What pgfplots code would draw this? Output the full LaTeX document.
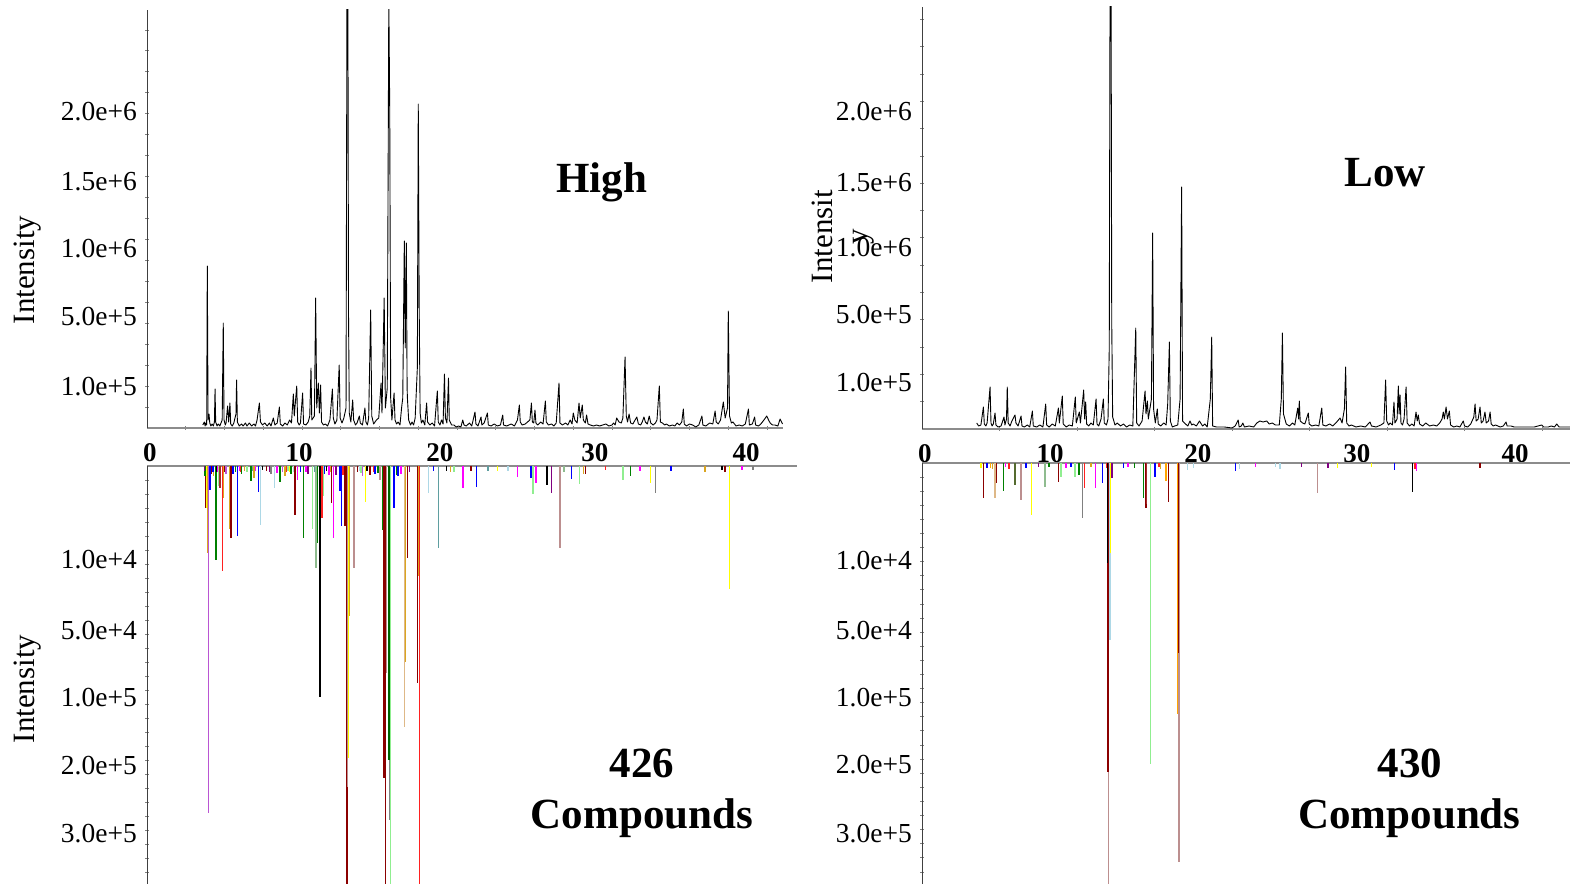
\documentclass[border=0pt]{standalone}
\usepackage{pgfplots}
\pgfplotsset{compat=1.18}
\usepackage{fontspec}
\setmainfont{Liberation Serif}

\definecolor{cdarkred}{HTML}{8B0000}
\definecolor{cred}{HTML}{FF2020}
\definecolor{corchid}{HTML}{BA55D3}
\definecolor{cblue}{HTML}{0000FF}
\definecolor{cgreen}{HTML}{008000}
\definecolor{clightgreen}{HTML}{90EE90}
\definecolor{cgold}{HTML}{DAA520}
\definecolor{cyellow}{HTML}{FFFF00}
\definecolor{clightblue}{HTML}{ADD8E6}
\definecolor{cmagenta}{HTML}{FF00FF}
\definecolor{crosy}{HTML}{BC8F8F}
\definecolor{cburly}{HTML}{DEB887}
\definecolor{cteal}{HTML}{5F9EA0}
\definecolor{cbrown}{HTML}{A52A2A}
\definecolor{colive}{HTML}{556B2F}
\definecolor{cseagreen}{HTML}{8FBC8F}
\definecolor{cpurple}{HTML}{800080}
\definecolor{cdkgreen}{HTML}{006400}
\definecolor{corange}{HTML}{FFA500}

\newcommand{\ticksize}{\fontsize{27.5}{30}\selectfont}
\newcommand{\bigbold}{\fontsize{43}{48}\selectfont\bfseries}

\pgfplotsset{
  panel/.style={
    scale only axis,
    tick align=outside,
    major tick length=0pt,
    minor tick length=4pt,
    every minor tick/.append style={draw=black!50, line width=0.8pt},
    yticklabel style={font=\ticksize, anchor=east, inner sep=0pt, xshift=-10pt},
  },
  plainlines/.style={
    axis line style={-},
    every outer x axis line/.append style={-},
    every outer y axis line/.append style={-},
    x axis line style={-, draw=black!45, line width=1.3pt},
    y axis line style={-, draw=black!75, line width=1pt},
  },
  toppanel/.style={panel, axis x line=bottom, axis y line=left, plainlines, ymin=0,
    xticklabel style={font=\fontsize{27}{28}\selectfont\bfseries, anchor=north, inner sep=0pt, yshift=-15pt},
    xticklabels={0,10,20,30,40},
    yticklabels={1.0e+5,5.0e+5,1.0e+6,1.5e+6,2.0e+6}},
  botpanel/.style={panel, axis x line=top, axis y line=left, plainlines, ymax=0, xmin=0,
    xtick=\empty,
    yticklabels={1.0e+4,5.0e+4,1.0e+5,2.0e+5,3.0e+5}},
  comb/.style={ycomb, line width=1.4pt, draw=#1},
  trace/.style={black, line width=0.9pt, line join=round},
}

\begin{document}
\begin{tikzpicture}[x=1pt,y=1pt]
\useasboundingbox (0,0) rectangle (1570,883);
\clip (0,0) rectangle (1570,883);

% ---------------- High: total ion chromatogram ----------------
\begin{axis}[toppanel, at={(147pt,455pt)}, anchor=south west,
  width=636pt, height=418pt, xmin=0, xmax=41.03, ymax=418,
  xtick={0.19,9.81,18.9,28.9,38.65},
  minor xtick={2.5,5,...,40},
  ytick={41,111,179,246,316},
  minor ytick={20.95,41.9,...,410}]
\addplot[trace] coordinates {
(3.60,3) (3.70,6) (3.75,2) (3.80,5) (3.85,3) (3.89,162) (3.94,8) (4.00,14) (4.05,5) (4.12,2) (4.20,4)
(4.28,2) (4.35,6) (4.39,39) (4.43,6) (4.52,2) (4.60,4) (4.70,2) (4.80,6) (4.85,8) (4.92,105) (4.97,8)
(5.05,3) (5.10,5) (5.20,22) (5.27,6) (5.35,25) (5.40,4) (5.50,2) (5.60,5) (5.74,14) (5.78,48) (5.83,6)
(5.95,2) (6.10,4) (6.20,2) (6.35,5) (6.45,2) (6.60,5) (6.75,2) (6.90,4) (7.00,2) (7.10,8) (7.25,25)
(7.32,6) (7.45,3) (7.60,5) (7.75,2) (7.90,5) (8.00,2) (8.15,10) (8.25,3) (8.40,5) (8.54,21) (8.60,4)
(8.75,2) (8.90,5) (9.05,3) (9.20,8) (9.32,5) (9.44,34) (9.50,12) (9.66,42) (9.72,6) (9.82,3) (9.90,5)
(10.04,35) (10.10,4) (10.25,3) (10.40,6) (10.50,12) (10.58,60) (10.63,8) (10.80,12) (10.88,130) (10.95,20)
(11.05,45) (11.12,15) (11.20,43) (11.26,6) (11.38,3) (11.50,4) (11.65,2) (11.80,8) (11.96,39) (12.02,10)
(12.12,4) (12.25,8) (12.40,63) (12.46,10) (12.58,5) (12.70,10) (12.84,20) (12.90,430) (12.96,430)
(13.00,115) (13.05,15) (13.15,6) (13.27,28) (13.33,8) (13.45,3) (13.55,5) (13.70,12) (13.76,5) (13.90,3)
(14.06,20) (14.12,6) (14.22,3) (14.30,10) (14.43,118) (14.50,12) (14.62,4) (14.80,8) (14.95,10)
(15.10,45) (15.16,15) (15.30,130) (15.38,20) (15.50,40) (15.60,430) (15.66,316) (15.72,30) (15.80,8)
(15.94,35) (16.00,8) (16.10,4) (16.20,6) (16.32,3) (16.43,21) (16.50,30) (16.60,187) (16.66,80) (16.73,185)
(16.78,40) (16.80,30) (16.88,8) (17.00,3) (17.10,6) (17.20,3) (17.30,10) (17.44,60) (17.50,324) (17.56,120)
(17.62,15) (17.70,5) (17.80,8) (17.92,3) (18.04,25) (18.10,6) (18.25,3) (18.40,5) (18.55,2) (18.73,37)
(18.79,6) (18.90,3) (19.00,8) (19.10,4) (19.19,54) (19.25,10) (19.35,5) (19.45,50) (19.50,8) (19.65,3)
(19.80,3) (19.95,1) (20.10,2) (20.25,1) (20.37,8) (20.45,3) (20.60,2) (20.80,5) (20.95,2) (21.16,16)
(21.22,4) (21.35,2) (21.55,11) (21.60,3) (21.75,5) (21.96,15) (22.02,3) (22.20,2) (22.40,4) (22.60,2)
(22.80,3) (22.95,13) (23.00,3) (23.20,2) (23.35,3) (23.50,4) (23.70,2) (23.90,8) (24.02,23) (24.08,6)
(24.20,3) (24.40,4) (24.55,6) (24.70,8) (24.80,25) (24.86,6) (24.95,5) (25.03,18) (25.09,5) (25.20,3)
(25.40,6) (25.55,4) (25.70,27) (25.76,6) (25.90,3) (26.10,4) (26.25,2) (26.40,5) (26.58,45) (26.64,5)
(26.80,3) (27.00,5) (27.15,3) (27.30,8) (27.42,4) (27.50,15) (27.60,8) (27.75,5) (27.87,25) (27.95,10)
(28.08,23) (28.15,8) (28.28,5) (28.36,13) (28.45,4) (28.60,3) (28.80,2) (29.00,3) (29.20,2) (29.40,3)
(29.60,4) (29.80,2) (30.00,3) (30.10,5) (30.20,3) (30.30,10) (30.45,6) (30.60,5) (30.70,10) (30.84,71)
(30.92,12) (31.00,6) (31.10,14) (31.20,5) (31.35,4) (31.45,7) (31.60,11) (31.70,4) (31.85,3) (31.95,6)
(32.06,11) (32.15,6) (32.28,4) (32.40,12) (32.50,5) (32.65,3) (32.80,5) (32.90,8) (33.05,42) (33.12,6)
(33.25,5) (33.40,3) (33.50,4) (33.70,2) (33.90,3) (34.05,2) (34.20,5) (34.35,3) (34.50,6) (34.60,19)
(34.66,4) (34.80,2) (35.00,4) (35.20,3) (35.40,1) (35.60,3) (35.80,12) (35.86,3) (36.05,2) (36.30,5)
(36.50,4) (36.65,17) (36.72,6) (36.85,4) (37.00,8) (37.18,26) (37.30,10) (37.45,20) (37.50,117) (37.58,12)
(37.70,5) (37.80,6) (38.00,2) (38.20,3) (38.40,2) (38.60,4) (38.80,19) (38.86,3) (39.05,4) (39.20,11)
(39.26,3) (39.45,2) (39.60,4) (39.80,8) (39.98,12) (40.10,8) (40.20,5) (40.35,3) (40.50,3) (40.70,2)
(40.84,9) (41.00,4)
};
\end{axis}

% ---------------- High: deconvolved compounds ----------------
\begin{axis}[botpanel, at={(147pt,-3pt)}, anchor=south west,
  width=650pt, height=420pt, xmax=41.94, ymin=-420,
  minor xtick={5,10,...,40},
  ytick={-94,-165,-232,-300,-368},
  minor ytick={-14,-28,...,-420}]
% deep components
\addplot[comb=cdarkred] coordinates {(12.90,-430) (15.40,-430) (15.30,-312) (17.45,-217)};
\addplot[comb=cred] coordinates {(17.58,-430)};
\addplot[comb=clightgreen] coordinates {(15.70,-430)};
\addplot[comb=crosy] coordinates {(12.95,-321) (15.45,-207)};
\addplot[comb=gray] coordinates {(15.66,-354)};
\addplot[comb=corchid] coordinates {(3.95,-347)};
\addplot[comb=black] coordinates {(11.16,-231)};
\addplot[comb=cyellow] coordinates {(13.02,-292)};
\addplot[comb=cburly] coordinates {(16.62,-261)};
\addplot[comb=cdkgreen] coordinates {(15.62,-294)};
\addplot[comb=cgold] coordinates {(16.66,-196) (13.05,-150) (17.52,-110)};
% shallow components
\addplot[comb=cdarkred] coordinates {(3.79,-42) (5.42,-72) (9.55,-49) (11.90,-37) (12.77,-60) (16.80,-92) (28.3,-8) (37.3,-6) (6.5,-6) (20.9,-5) (4.15,-8) (5.0,-6) (7.7,-5) (13.6,-6) (14.4,-9)};
\addplot[comb=cgold] coordinates {(3.89,-87) (5.31,-63) (6.9,-12) (8.9,-10) (13.9,-8) (28.15,-8) (36.0,-6) (4.9,-32) (4.3,-10) (6.3,-5) (11.8,-6) (19.6,-6)};
\addplot[comb=cyellow] coordinates {(3.85,-42) (14.10,-36) (32.50,-17) (37.57,-123) (9.2,-6) (22.6,-5)};
\addplot[comb=cblue] coordinates {(4.06,-24) (5.83,-70) (7.18,-26) (12.45,-25) (12.55,-60) (15.94,-42) (21.27,-21) (24.77,-12) (27.4,-13) (14.7,-8) (33.8,-5) (4.25,-6) (5.55,-8) (9.9,-6) (11.45,-8) (16.2,-10) (18.5,-5)};
\addplot[comb=cgreen] coordinates {(4.45,-94) (6.7,-15) (8.58,-16) (10.10,-72) (10.99,-77) (15.20,-64) (31.2,-10) (6.1,-8) (3.75,-10) (5.7,-6) (9.3,-8) (14.9,-7) (16.1,-9)};
\addplot[comb=cred] coordinates {(4.88,-105) (11.30,-52) (9.0,-6) (29.6,-4) (6.05,-6) (12.65,-9) (14.6,-6)};
\addplot[comb=clightblue] coordinates {(7.34,-59) (8.22,-22) (18.15,-27) (23.3,-5) (9.45,-6) (13.7,-5)};
\addplot[comb=clightgreen] coordinates {(10.66,-63) (24.90,-28) (27.9,-18) (30.7,-14) (4.6,-20) (19.8,-6) (6.45,-6) (9.1,-5) (11.4,-30) (13.8,-7)};
\addplot[comb=cseagreen] coordinates {(10.90,-102) (26.9,-6)};
\addplot[comb=cmagenta] coordinates {(12.05,-72) (7.0,-5) (9.7,-14) (20.4,-22) (25.1,-17) (23.9,-11) (31.8,-5) (38.4,-4) (4.55,-6) (5.95,-5) (8.4,-7) (10.25,-6) (11.75,-9) (16.4,-8)};
\addplot[comb=crosy] coordinates {(13.35,-102) (26.65,-82) (15.03,-14)};
\addplot[comb=cteal] coordinates {(18.80,-82) (22.0,-5) (6.8,-5) (10.8,-6)};
\addplot[comb=black] coordinates {(19.34,-5) (25.8,-19) (11.6,-5) (37.1,-4) (4.5,-6) (7.45,-4) (14.2,-5)};
\addplot[comb=gray] coordinates {(32.8,-27) (39.1,-4) (8.0,-8)};
\addplot[comb=cpurple] coordinates {(26.1,-27) (10.4,-8) (3.7,-5) (7.9,-6) (12.2,-9) (16.95,-6)};
\addplot[comb=corchid] coordinates {(13.9,-10) (5.1,-8) (8.75,-6)};
\addplot[comb=cbrown] coordinates {(4.72,-22)};
\end{axis}

% ---------------- Low: total ion chromatogram ----------------
\begin{axis}[toppanel, at={(922pt,454pt)}, anchor=south west,
  width=660pt, height=422pt, xmin=0, xmax=42.58, ymax=422,
  xtick={0.19,8.26,17.8,28.06,38.26},
  minor xtick={5,10,...,40},
  ytick={46,114,181,246,317},
  minor ytick={27.3,54.6,...,420}]
\addplot[trace] coordinates {
(3.53,6) (3.65,3) (3.80,4) (3.96,22) (4.02,5) (4.12,3) (4.20,6) (4.39,42) (4.45,6) (4.52,3) (4.60,5)
(4.71,16) (4.77,4) (4.90,2) (5.10,3) (5.29,12) (5.35,4) (5.45,10) (5.50,42) (5.56,6) (5.68,3) (5.80,8)
(6.00,14) (6.06,6) (6.20,3) (6.39,13) (6.45,3) (6.60,2) (6.80,4) (6.95,2) (7.12,18) (7.18,3) (7.40,2)
(7.60,4) (7.80,2) (7.98,25) (8.04,4) (8.20,2) (8.40,5) (8.60,3) (8.80,21) (8.86,6) (9.05,33) (9.11,5)
(9.30,2) (9.50,4) (9.70,3) (9.89,32) (9.95,6) (10.15,17) (10.22,6) (10.43,39) (10.49,10) (10.56,27)
(10.62,5) (10.75,3) (10.90,6) (11.05,4) (11.23,30) (11.29,5) (11.40,3) (11.55,10) (11.70,30) (11.76,6)
(11.90,4) (12.00,10) (12.08,80) (12.13,430) (12.20,430) (12.24,106) (12.30,12) (12.45,4) (12.60,6)
(12.80,3) (13.00,5) (13.20,2) (13.40,4) (13.60,3) (13.79,101) (13.85,6) (14.00,3) (14.20,8) (14.39,38)
(14.45,15) (14.54,28) (14.60,10) (14.80,30) (14.88,196) (14.94,20) (15.05,6) (15.18,20) (15.24,5) (15.40,3)
(15.60,6) (15.75,4) (15.85,25) (15.96,87) (16.02,8) (16.15,2) (16.30,3) (16.50,4) (16.65,30) (16.75,242)
(16.81,8) (17.00,5) (17.15,3) (17.29,8) (17.40,4) (17.50,5) (17.70,3) (17.90,8) (18.10,3) (18.25,5)
(18.40,2) (18.60,30) (18.69,92) (18.75,3) (19.00,2) (19.50,2) (20.00,1) (20.20,3) (20.40,9) (20.46,2)
(20.60,3) (20.70,6) (20.80,2) (21.10,3) (21.40,2) (21.60,6) (21.80,8) (22.00,7) (22.24,8) (22.40,5)
(22.60,6) (22.80,4) (23.05,4) (23.18,30) (23.25,96) (23.32,15) (23.50,5) (23.70,3) (23.90,6) (24.05,4)
(24.24,21) (24.30,10) (24.34,28) (24.40,8) (24.55,6) (24.70,5) (24.92,16) (24.98,5) (25.15,3) (25.40,4)
(25.60,3) (25.79,21) (25.86,4) (26.05,3) (26.30,5) (26.50,3) (26.70,6) (26.97,11) (27.10,6) (27.25,20)
(27.33,62) (27.40,6) (27.55,3) (27.70,4) (28.00,2) (28.30,3) (28.60,2) (28.90,7) (29.00,3) (29.30,2)
(29.60,4) (29.80,6) (29.91,49) (29.98,8) (30.10,4) (30.20,6) (30.35,4) (30.45,27) (30.51,6) (30.65,10)
(30.73,43) (30.78,15) (30.84,34) (30.90,6) (31.00,4) (31.10,10) (31.23,42) (31.30,6) (31.45,3) (31.60,5)
(31.75,3) (31.87,17) (31.95,8) (32.02,14) (32.10,5) (32.30,3) (32.50,6) (32.75,3) (33.00,4) (33.20,3)
(33.40,6) (33.55,10) (33.63,17) (33.70,10) (33.81,22) (33.90,10) (34.02,18) (34.10,4) (34.30,2) (34.50,3)
(34.70,2) (34.92,8) (35.00,3) (35.20,2) (35.40,5) (35.60,12) (35.68,25) (35.75,8) (35.88,10) (36.00,22)
(36.08,6) (36.20,8) (36.32,17) (36.40,6) (36.55,8) (36.65,17) (36.72,5) (36.85,3) (37.00,4) (37.30,2)
(37.50,3) (37.68,7) (37.75,3) (38.00,3) (38.20,2) (38.60,2) (39.00,2) (39.50,2) (39.98,4) (40.10,2)
(40.40,2) (40.60,3) (40.80,2) (40.95,5) (41.10,2) (42.50,2)
};
\end{axis}

% ---------------- Low: deconvolved compounds ----------------
\begin{axis}[botpanel, at={(922pt,-3pt)}, anchor=south west,
  width=660pt, height=423pt, xmax=42.58, ymin=-423,
  minor xtick={5,10,...,40},
  ytick={-97.5,-168,-235,-301.5,-371},
  minor ytick={-14.1,-28.2,...,-420}]
% deep components
\addplot[comb=crosy] coordinates {(12.04,-430) (16.58,-399)};
\addplot[comb=cdarkred] coordinates {(12.00,-309) (16.55,-190)};
\addplot[comb=clightgreen] coordinates {(14.75,-301)};
\addplot[comb=corange] coordinates {(16.50,-251)};
\addplot[comb=clightblue] coordinates {(12.12,-177)};
\addplot[comb=black] coordinates {(11.98,-100)};
\addplot[comb=cyellow] coordinates {(12.16,-90)};
% shallow components
\addplot[comb=cdarkred] coordinates {(3.96,-35) (4.82,-20) (8.80,-19) (14.45,-45) (15.89,-39) (36.0,-5)};
\addplot[comb=cburly] coordinates {(4.70,-35)};
\addplot[comb=cgreen] coordinates {(5.25,-28) (10.13,-12) (14.28,-35) (8.2,-4) (13.7,-5)};
\addplot[comb=colive] coordinates {(6.00,-22)};
\addplot[comb=crosy] coordinates {(6.39,-37) (25.53,-30)};
\addplot[comb=cyellow] coordinates {(7.08,-52) (3.8,-5) (26.8,-5) (29.0,-4)};
\addplot[comb=cseagreen] coordinates {(7.94,-24)};
\addplot[comb=clightgreen] coordinates {(8.97,-14) (9.87,-14)};
\addplot[comb=gray] coordinates {(10.37,-55)};
\addplot[comb=cred] coordinates {(10.47,-25) (5.6,-6) (31.8,-6) (11.9,-5) (15.3,-4)};
\addplot[comb=cmagenta] coordinates {(11.20,-25) (31.9,-8) (21.5,-4) (5.4,-4) (9.3,-5) (13.3,-4)};
\addplot[comb=cblue] coordinates {(11.66,-20) (15.03,-14) (20.24,-8) (30.47,-7) (4.2,-5) (6.7,-5) (9.6,-4) (13.0,-5)};
\addplot[comb=corange] coordinates {(15.74,-18) (4.4,-5)};
\addplot[comb=cgold] coordinates {(4.55,-6) (10.9,-4) (15.4,-6)};
\addplot[comb=clightblue] coordinates {(17.12,-7) (23.1,-6) (20.5,-6) (17.5,-5) (22.8,-4)};
\addplot[comb=black] coordinates {(31.63,-29)};
\addplot[comb=cbrown] coordinates {(14.50,-41)};
\addplot[comb=cpurple] coordinates {(12.25,-15) (7.5,-4) (24.5,-4) (26.2,-5)};
\end{axis}

% panel texts
\node[anchor=base, font=\bigbold] at (601.7,690) {High};
\node[anchor=base, font=\bigbold] at (1385,696) {Low};
\node[anchor=base, font=\bigbold] at (642,106) {426};
\node[anchor=base, font=\bigbold] at (642,55) {Compounds};
\node[anchor=base, font=\bigbold] at (1410,106) {430};
\node[anchor=base, font=\bigbold] at (1409.5,55) {Compounds};

% axis titles
\node[rotate=90, anchor=base, font=\fontsize{31}{34}\selectfont] at (34,613) {Intensity};
\node[rotate=90, anchor=base, font=\fontsize{31}{34}\selectfont] at (34,194) {Intensity};
\node[rotate=90, anchor=base, font=\fontsize{31}{34}\selectfont] at (832,646.3) {Intensit};
\node[rotate=90, anchor=base, font=\fontsize{31}{34}\selectfont] at (867,646) {y};
\end{tikzpicture}
\end{document}
